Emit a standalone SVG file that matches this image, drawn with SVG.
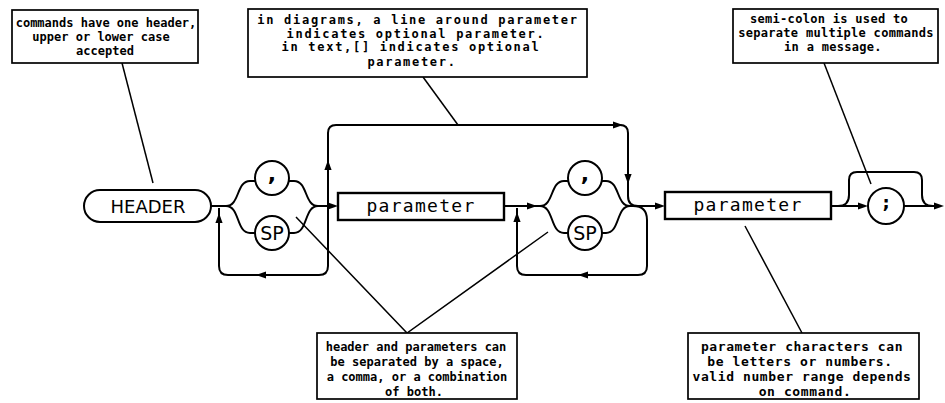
<svg xmlns="http://www.w3.org/2000/svg" width="945" height="403" viewBox="0 0 945 403">
  <style>
    .bg { fill: #ffffff; }
    .note { fill: #ffffff; stroke: #000; stroke-width: 1.7; }
    .note-text { font-family: "DejaVu Sans Mono", "Liberation Mono", monospace; font-size: 12px; font-weight: bold; fill: #000; text-anchor: middle; }
    .wide { letter-spacing: 1.7px; }
    .mid { letter-spacing: 0.3px; }
    .roomy { font-size: 13px; letter-spacing: 0.6px; }
    .leader { fill: none; stroke: #000; stroke-width: 1.5; }
    .wire { fill: none; stroke: #000; stroke-width: 2; }
    .box { fill: #ffffff; stroke: #000; stroke-width: 2.4; }
    .term { fill: #ffffff; stroke: #000; stroke-width: 2; }
    .label { font-family: "DejaVu Sans", "Liberation Sans", sans-serif; fill: #000; text-anchor: middle; }
    .param { font-family: "DejaVu Sans Mono", "Liberation Mono", monospace; font-size: 18px; letter-spacing: 1.3px; fill: #000; text-anchor: middle; }
    .arrow { fill: #000; }
  </style>
  <defs>
    <!-- arrowhead with its tip at the origin, pointing along +x -->
    <path id="ah" class="arrow" d="M0,0 L-10,-3.6 L-10,3.6 Z"/>
  </defs>

  <rect class="bg" x="0" y="0" width="945" height="403"/>

  <!-- railroad track and leader lines -->
  <g id="connectors">
    <!-- HEADER to first separator group -->
    <path class="wire" d="M211,206 L226,206"/>
    <!-- first separator group: comma branch and SP branch -->
    <path class="wire" d="M226,206 C240,206 236,181 250,181 L255.3,181"/>
    <path class="wire" d="M288.7,181 L294,181 C308,181 304,206 318,206"/>
    <path class="wire" d="M226,206 C240,206 236,233 250,233 L255,233"/>
    <path class="wire" d="M289,233 L294,233 C308,233 304,206 318,206"/>
    <path class="wire" d="M318,206 L330,206"/>
    <!-- first repeat loop -->
    <path class="wire" d="M328,206 L328,266 Q328,275 319,275 L228,275 Q219,275 219,266 L219,208"/>
    <!-- bypass over the optional parameter -->
    <path class="wire" d="M328,206 L328,133 Q328,125 336,125 L620,125 Q628,125 628,133 L628,196 Q628,206 638,206"/>
    <!-- parameter to second separator group -->
    <path class="wire" d="M504,206 L540,206"/>
    <path class="wire" d="M540,206 C554,206 550,181 564,181 L568.3,181"/>
    <path class="wire" d="M601.7,181 L606,181 C620,181 616,206 630,206"/>
    <path class="wire" d="M540,206 C554,206 550,233 564,233 L568,233"/>
    <path class="wire" d="M602,233 L606,233 C620,233 616,206 630,206"/>
    <path class="wire" d="M630,206 L658,206"/>
    <!-- second repeat loop -->
    <path class="wire" d="M633,206 Q647,206 647,220 L647,266 Q647,275 638,275 L526,275 Q517,275 517,266 L517,208"/>
    <!-- second parameter to terminator -->
    <path class="wire" d="M831,206 L862,206"/>
    <path class="wire" d="M838,206 Q849,206 849,195 L849,180 Q849,172 857,172 L914,172 Q922,172 922,180 L922,195 Q922,206 933,206"/>
    <path class="wire" d="M904,206 L938,206"/>

    <!-- arrowheads -->
    <use href="#ah" transform="translate(338,206)"/>
    <use href="#ah" transform="translate(219,213) rotate(-90)"/>
    <use href="#ah" transform="translate(256,275) rotate(180)"/>
    <use href="#ah" transform="translate(328,160) rotate(-90)"/>
    <use href="#ah" transform="translate(623,125)"/>
    <use href="#ah" transform="translate(628,184) rotate(90)"/>
    <use href="#ah" transform="translate(537,206)"/>
    <use href="#ah" transform="translate(517,212) rotate(-90)"/>
    <use href="#ah" transform="translate(578,275) rotate(180)"/>
    <use href="#ah" transform="translate(665,206)"/>
    <use href="#ah" transform="translate(868,206)"/>
    <use href="#ah" transform="translate(944,206)"/>

    <!-- leader lines from the notes -->
    <path class="leader" d="M122,63 L153,183"/>
    <path class="leader" d="M423,77 L458,125"/>
    <path class="leader" d="M824,63 L871,184"/>
    <path class="leader" d="M296,217 L407,333 L548,232"/>
    <path class="leader" d="M802,333 L745,226"/>
  </g>

  <!-- syntax elements -->
  <g id="header">
    <rect class="term" x="84" y="190" width="127" height="32" rx="16"/>
    <text class="label" x="148" y="213" font-size="18">HEADER</text>
  </g>
  <g id="comma-1">
    <circle class="term" cx="272" cy="178" r="17"/>
    <text class="label" x="272" y="181" font-size="22" font-weight="bold">,</text>
  </g>
  <g id="sp-1">
    <circle class="term" cx="272" cy="233" r="17"/>
    <text class="label" x="272" y="240" font-size="19">SP</text>
  </g>
  <g id="parameter-1">
    <rect class="box" x="338" y="193" width="166" height="27"/>
    <text class="param" x="421" y="212">parameter</text>
  </g>
  <g id="comma-2">
    <circle class="term" cx="585" cy="178" r="17"/>
    <text class="label" x="585" y="181" font-size="22" font-weight="bold">,</text>
  </g>
  <g id="sp-2">
    <circle class="term" cx="585" cy="233" r="17"/>
    <text class="label" x="585" y="240" font-size="19">SP</text>
  </g>
  <g id="parameter-2">
    <rect class="box" x="665" y="192" width="166" height="27"/>
    <text class="param" x="748" y="211">parameter</text>
  </g>
  <g id="semicolon">
    <circle class="term" cx="886" cy="206" r="18"/>
    <text class="label" x="886" y="209" font-size="18" font-weight="bold">;</text>
  </g>

  <!-- explanatory notes -->
  <g id="note-header">
    <rect class="note" x="12" y="10" width="186" height="53"/>
    <text class="note-text" x="106" y="27">commands have one header,</text>
    <text class="note-text" x="101" y="41">upper or lower case</text>
    <text class="note-text" x="105" y="55">accepted</text>
  </g>
  <g id="note-optional">
    <rect class="note" x="248" y="9" width="339" height="68"/>
    <text class="note-text wide" x="418" y="24">in diagrams, a line around parameter</text>
    <text class="note-text wide" x="416" y="37.5">indicates optional parameter.</text>
    <text class="note-text wide" x="411" y="51">in text,[] indicates optional</text>
    <text class="note-text wide" x="412" y="66">parameter.</text>
  </g>
  <g id="note-semicolon">
    <rect class="note" x="733" y="9" width="205" height="54"/>
    <text class="note-text mid" x="829" y="23">semi-colon is used to</text>
    <text class="note-text mid" x="836" y="37">separate multiple commands</text>
    <text class="note-text mid" x="833" y="51">in a message.</text>
  </g>
  <g id="note-separators">
    <rect class="note" x="317" y="333" width="200" height="66"/>
    <text class="note-text" x="416" y="351">header and parameters can</text>
    <text class="note-text" x="417" y="366">be separated by a space,</text>
    <text class="note-text" x="417" y="381">a comma, or a combination</text>
    <text class="note-text" x="414" y="396">of both.</text>
  </g>
  <g id="note-characters">
    <rect class="note" x="688" y="333" width="231" height="66"/>
    <text class="note-text roomy" x="802" y="351">parameter characters can</text>
    <text class="note-text roomy" x="800" y="366">be letters or numbers.</text>
    <text class="note-text roomy" x="802" y="381">valid number range depends</text>
    <text class="note-text roomy" x="805" y="396">on command.</text>
  </g>
</svg>
